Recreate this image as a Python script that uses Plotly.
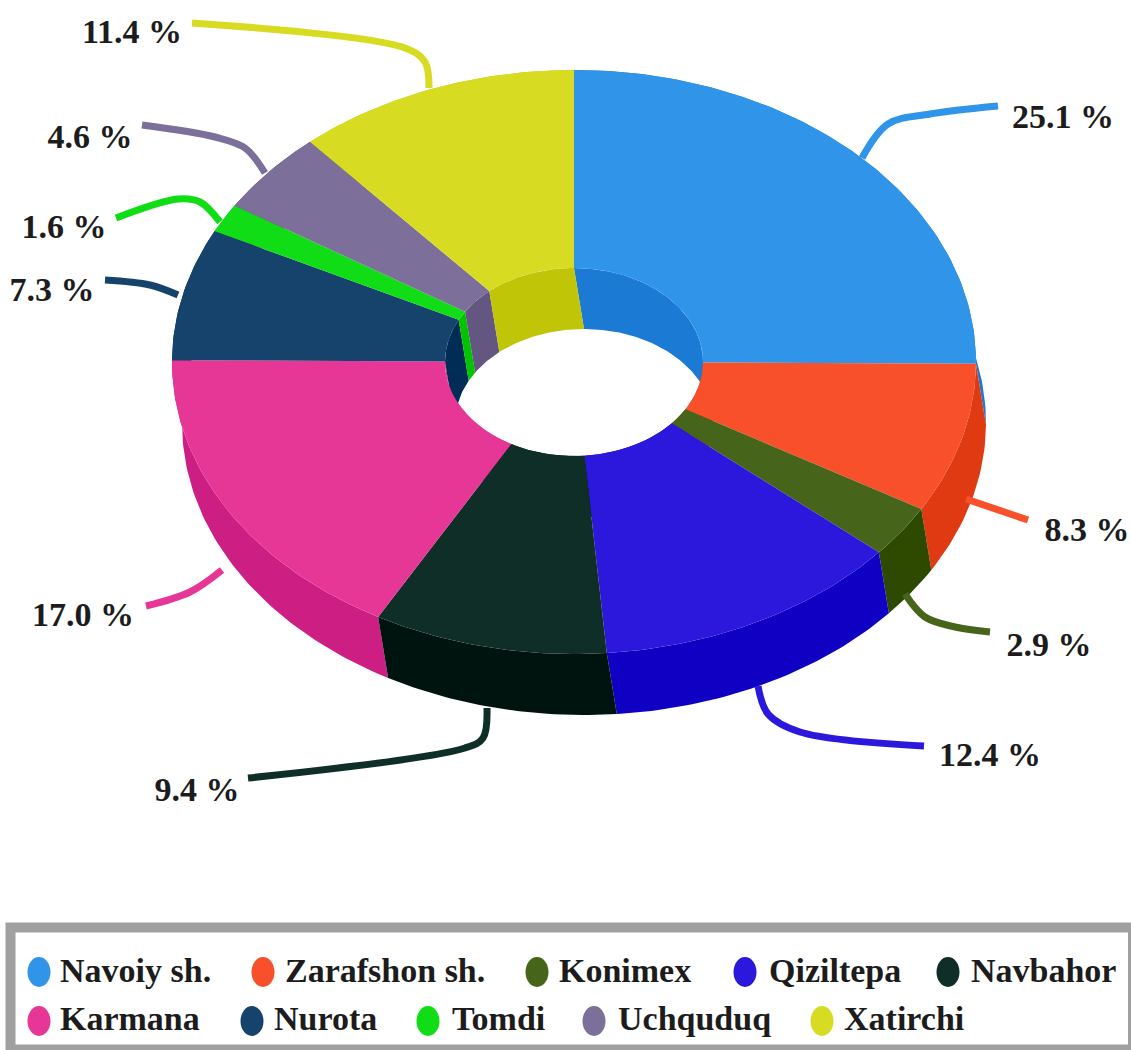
import numpy as np
import plotly.graph_objects as go

# ---------- data ----------
districts = ["Navoiy sh.", "Zarafshon sh.", "Konimex", "Qiziltepa", "Navbahor",
             "Karmana", "Nurota", "Tomdi", "Uchquduq", "Xatirchi"]
shares = [25.1, 8.3, 2.9, 12.4, 9.4, 17.0, 7.3, 1.6, 4.6, 11.4]

# ---------- styles ----------
top_colors = ["#3095e8", "#f7502b", "#47651a", "#2c18dc", "#0f2e28",
              "#e63797", "#15436b", "#10dd15", "#7c6f99", "#d7dc22"]
outer_colors = ["#1a7ad4", "#e03a12", "#2e4a00", "#1000c4", "#00140f",
                "#cd1f83", "#002c55", "#00c400", "#635680", "#c0c508"]
inner_colors = outer_colors

# ---------- geometry (pixel-space axes) ----------
W, H = 1131, 1050
CX, CY = 574.0, 362.0
RX, RY = 402.0, 292.0
IRX, IRY = 129.0, 94.0
DX, DY = 10.0, 61.0

FONT = "Liberation Serif"
TXT = "#1c1c1c"

label_xy = [(1063, 119), (1087, 532), (1049, 647), (990, 757), (197, 792),
            (83, 617), (52, 292), (64, 229), (90, 139), (132, 34)]
leaders = [
    [(862, 158), (888, 124), (930, 114), (998, 106)],
    [(966, 499), (1028, 520)],
    [(905, 594), (925, 617), (955, 627), (990, 632)],
    [(758, 686), (768, 714), (800, 732), (924, 746)],
    [(487, 708), (483, 738), (465, 748), (248, 778)],
    [(222, 570), (190, 592), (146, 606)],
    [(178, 295), (150, 285), (105, 280)],
    [(220, 222), (200, 202), (178, 199), (116, 218)],
    [(265, 173), (245, 148), (215, 137), (142, 125)],
    [(429, 88), (425, 62), (405, 48), (192, 23)],
]
legend_marker_x = [39, 263, 537, 745, 948, 39, 252, 428, 594, 822]
legend_marker_y = [972] * 5 + [1021] * 5
legend_text_x = [60, 285, 559, 769, 971, 60, 274, 452, 618, 844]
legend_text_y = [973] * 5 + [1021] * 5


def arc(a0, a1, rx, ry, dx=0.0, dy=0.0):
    n = max(3, int(abs(a1 - a0) * 180 / np.pi) + 2)
    t = np.linspace(a0, a1, n)
    return CX + dx + rx * np.sin(t), CY + dy - ry * np.cos(t)


cum = np.concatenate([[0], np.cumsum(shares)]) / sum(shares) * 2 * np.pi
fig = go.Figure()


def poly(x, y, color):
    fig.add_trace(go.Scatter(x=np.r_[x, x[0]], y=np.r_[y, y[0]], mode="lines",
                             fill="toself", fillcolor=color,
                             line=dict(width=0, color=color),
                             hoverinfo="skip", showlegend=False))


mid = (cum[:-1] + cum[1:]) / 2
back_to_front = np.argsort(np.cos(mid) * -1)

# outer walls
for i in back_to_front:
    x1, y1 = arc(cum[i], cum[i + 1], RX, RY)
    x2, y2 = arc(cum[i + 1], cum[i], RX, RY, DX, DY)
    poly(np.r_[x1, x2], np.r_[y1, y2], outer_colors[i])

# inner walls
for i in range(len(shares)):
    x1, y1 = arc(cum[i], cum[i + 1], IRX, IRY)
    x2, y2 = arc(cum[i + 1], cum[i], IRX, IRY, DX, DY)
    poly(np.r_[x1, x2], np.r_[y1, y2], inner_colors[i])

# top faces
for i in range(len(shares)):
    x1, y1 = arc(cum[i], cum[i + 1], RX, RY)
    x2, y2 = arc(cum[i + 1], cum[i], IRX, IRY)
    poly(np.r_[x1, x2], np.r_[y1, y2], top_colors[i])

# leader lines
for pts, c in zip(leaders, top_colors):
    xs, ys = zip(*pts)
    fig.add_trace(go.Scatter(x=xs, y=ys, mode="lines",
                             line=dict(color=c, width=7, shape="spline", smoothing=1.0),
                             hoverinfo="skip", showlegend=False))

# data labels
fig.add_trace(go.Scatter(x=[p[0] for p in label_xy], y=[p[1] for p in label_xy],
                         mode="text", text=[f"{v:.1f} %" for v in shares],
                         textposition="middle center",
                         textfont=dict(family=FONT, size=34, color=TXT, weight=700),
                         hoverinfo="skip", showlegend=False))

# legend text
fig.add_trace(go.Scatter(x=legend_text_x, y=legend_text_y, mode="text", text=districts,
                         textposition="middle right",
                         textfont=dict(family=FONT, size=34, color=TXT, weight=700),
                         hoverinfo="skip", showlegend=False))

# legend frame and (vertically stretched) swatches
shapes = [dict(type="rect", xref="x", yref="y", x0=10.5, x1=1133, y0=927.5, y1=1049.5,
               line=dict(color="#a0a0a0", width=10), fillcolor="rgba(0,0,0,0)")]
for mx, my, c in zip(legend_marker_x, legend_marker_y, top_colors):
    shapes.append(dict(type="circle", xref="x", yref="y", x0=mx - 11.5, x1=mx + 11.5,
                       y0=my - 15, y1=my + 15, line=dict(width=0), fillcolor=c))

fig.update_layout(
    width=W, height=H, margin=dict(l=0, r=0, t=0, b=0),
    paper_bgcolor="white", plot_bgcolor="white",
    xaxis=dict(range=[0, W], visible=False, fixedrange=True),
    yaxis=dict(range=[H, 0], visible=False, fixedrange=True),
    shapes=shapes,
)
fig.write_html("out.html", config={"displayModeBar": False},
               post_script="document.body.style.margin='0';document.documentElement.style.overflow='hidden';")
